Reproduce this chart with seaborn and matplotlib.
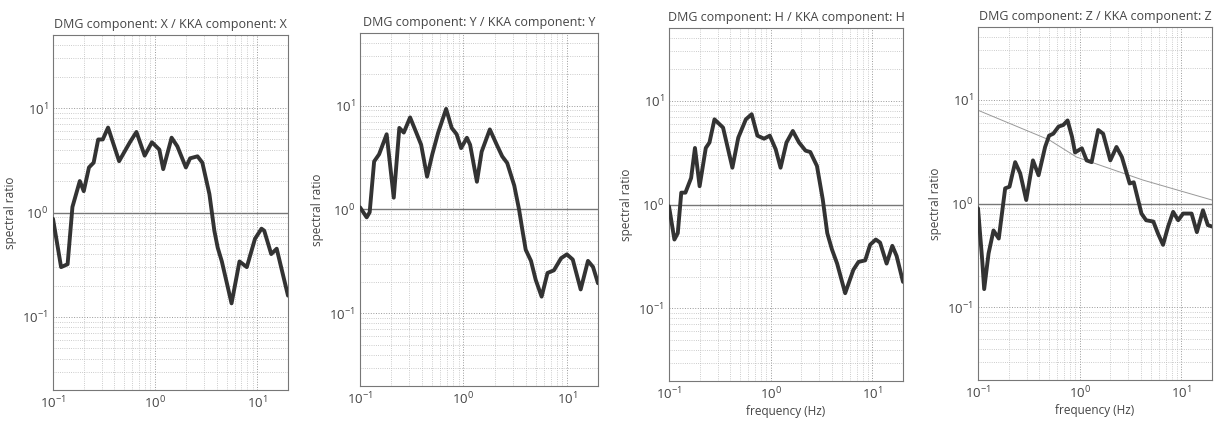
import numpy as np
import pandas as pd
import matplotlib
matplotlib.use("Agg")
import matplotlib.pyplot as plt
import seaborn as sns

# частоты и спектральные отношения
freq_x = [0.1, 0.12, 0.139, 0.155, 0.183, 0.2, 0.225, 0.25, 0.277, 0.307, 0.346, 0.444, 0.566, 0.656,
          0.79, 0.93, 1.1, 1.2, 1.45, 1.65, 2.0, 2.2, 2.6, 2.9, 3.4, 3.8, 4.1, 4.5, 5.6, 6.7, 7.9, 9.5,
          11.0, 11.7, 13.7, 15.5, 20.0]
ratio_x = [0.87, 0.30, 0.32, 1.13, 2.0, 1.6, 2.7, 3.0, 5.0, 5.0, 6.5, 3.1, 4.7, 5.9,
           3.5, 4.7, 4.0, 2.6, 5.2, 4.3, 2.7, 3.3, 3.45, 3.0, 1.5, 0.67, 0.46, 0.34, 0.135, 0.34, 0.30, 0.56,
           0.70, 0.67, 0.40, 0.45, 0.16]

freq_y = [0.1, 0.116, 0.124, 0.137, 0.153, 0.181, 0.212, 0.24, 0.265, 0.305, 0.35, 0.39, 0.445, 0.5,
          0.57, 0.68, 0.77, 0.86, 0.95, 1.08, 1.16, 1.35, 1.5, 1.8, 2.1, 2.37, 2.65, 3.1, 3.45, 3.7,
          4.0, 4.5, 5.0, 5.7, 6.5, 7.5, 8.8, 10.0, 11.4, 13.6, 16.0, 17.9, 20.0]
ratio_y = [1.05, 0.84, 0.94, 2.9, 3.4, 5.3, 1.3, 6.1, 5.5, 7.7, 5.5, 4.2, 2.07, 3.4,
           5.5, 9.3, 6.1, 5.3, 3.9, 4.9, 4.2, 1.85, 3.6, 5.9, 4.2, 3.25, 2.8, 1.7, 1.0, 0.65,
           0.41, 0.32, 0.21, 0.145, 0.245, 0.26, 0.34, 0.37, 0.33, 0.17, 0.32, 0.28, 0.195]

freq_h = [0.1, 0.113, 0.122, 0.132, 0.145, 0.165, 0.18, 0.2, 0.23, 0.25, 0.28, 0.34, 0.42, 0.48,
          0.57, 0.65, 0.74, 0.86, 0.98, 1.12, 1.25, 1.43, 1.65, 1.9, 2.2, 2.45, 2.85, 3.25, 3.6, 4.0,
          4.5, 5.4, 6.5, 7.3, 8.5, 9.5, 10.8, 11.9, 13.8, 15.7, 17.3, 20.0]
ratio_h = [0.96, 0.46, 0.53, 1.3, 1.3, 1.8, 3.5, 1.5, 3.5, 3.95, 6.6, 5.5, 2.26, 4.4,
           6.6, 7.4, 4.6, 4.3, 4.6, 3.4, 2.26, 3.95, 5.1, 3.95, 3.3, 3.2, 2.35, 1.12, 0.53, 0.37,
           0.27, 0.14, 0.235, 0.28, 0.29, 0.41, 0.46, 0.43, 0.27, 0.40, 0.32, 0.18]

freq_z = [0.1, 0.11, 0.115, 0.127, 0.142, 0.16, 0.185, 0.204, 0.232, 0.26, 0.298, 0.347, 0.394, 0.457,
          0.5, 0.55, 0.62, 0.69, 0.76, 0.84, 0.9, 1.05, 1.17, 1.31, 1.52, 1.7, 2.0, 2.3, 2.6, 3.1,
          3.4, 4.05, 4.5, 5.3, 5.9, 6.6, 7.4, 8.3, 9.3, 10.4, 12.6, 14.2, 16.3, 18.2, 20.0]
ratio_z = [0.9, 0.285, 0.15, 0.33, 0.55, 0.46, 1.4, 1.45, 2.5, 1.95, 1.08, 2.6, 1.87, 3.5,
           4.5, 4.7, 5.5, 5.7, 6.3, 4.4, 3.1, 3.4, 2.6, 2.5, 5.1, 4.7, 2.6, 3.5, 2.8, 1.56,
           1.6, 0.8, 0.69, 0.67, 0.51, 0.40, 0.6, 0.83, 0.69, 0.8, 0.8, 0.53, 0.86, 0.62, 0.6]

# тонкая серая линия на панели Z
freq_ref = [0.1, 0.5, 0.93, 4.2, 20.0]
ratio_ref = [7.9, 4.1, 2.8, 1.68, 1.08]

titles = ["DMG component: X / KKA component: X",
          "DMG component: Y / KKA component: Y",
          "DMG component: H / KKA component: H",
          "DMG component: Z / KKA component: Z"]
series = [(freq_x, ratio_x), (freq_y, ratio_y), (freq_h, ratio_h), (freq_z, ratio_z)]

sns.set_style("whitegrid")
plt.rcParams['font.family'] = ['Open Sans', 'DejaVu Sans']

W, H = 1219, 421
# положения осей в пикселях: left, right, top, bottom
boxes = [(53, 288, 35, 390), (360, 598, 33, 386), (669, 903, 28, 381), (978, 1212, 27, 380)]

fig = plt.figure(figsize=(W / 100, H / 100), dpi=100)
text_c = '#444444'

for i, (box, title, (f, r)) in enumerate(zip(boxes, titles, series)):
    l, rgt, t, b = box
    ax = fig.add_axes([l / W, 1 - b / H, (rgt - l) / W, (b - t) / H])
    ax.set_xscale('log')
    ax.set_yscale('log')
    ax.set_xlim(0.1, 20)
    ax.set_ylim(0.02, 50)
    ax.grid(True, which='major', ls=':', color='#999999', lw=0.7)
    ax.grid(True, which='minor', ls=':', color='#bbbbbb', lw=0.6)
    ax.axhline(1.0, color='#777777', lw=1.0, zorder=2)
    if i == 3:
        sns.lineplot(x=freq_ref, y=ratio_ref, ax=ax, color='#999999', linewidth=0.7, zorder=2)
    df = pd.DataFrame({'f': f, 'r': r})
    sns.lineplot(data=df, x='f', y='r', ax=ax, color='#333333', linewidth=2.8, zorder=3, sort=False,
                 solid_joinstyle='round', solid_capstyle='round')
    for s in ax.spines.values():
        s.set_color('#777777')
        s.set_linewidth(0.8)
    ax.tick_params(which='both', direction='in', colors='#777777', labelcolor=text_c, labelsize=9.5)
    ax.set_title(title, fontsize=9, color=text_c, pad=5)
    ax.set_ylabel('spectral ratio', fontsize=8.5, color=text_c)
    if i >= 2:
        ax.set_xlabel('frequency (Hz)', fontsize=8.5, color=text_c, labelpad=2)
    else:
        ax.set_xlabel('')

fig.savefig('out.png', dpi=100)
